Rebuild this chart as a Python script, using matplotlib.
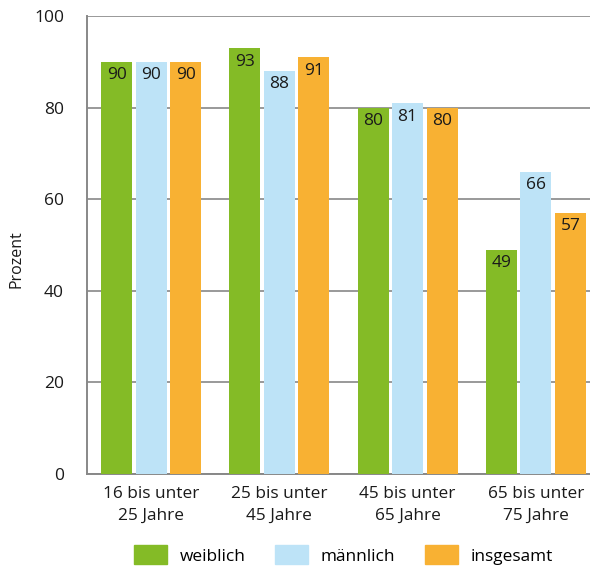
import numpy as np
import matplotlib.pyplot as plt
from matplotlib.patches import Patch

plt.rcParams['font.family'] = ['Open Sans', 'DejaVu Sans']

gruppen = ['16 bis unter\n25 Jahre', '25 bis unter\n45 Jahre',
           '45 bis unter\n65 Jahre', '65 bis unter\n75 Jahre']
weiblich = [90, 93, 80, 49]
maennlich = [90, 88, 81, 66]
insgesamt = [90, 91, 80, 57]
serien = ['weiblich', 'männlich', 'insgesamt']
farben = ['#84bb26', '#bde3f7', '#f8b133']

fig = plt.figure(figsize=(5.9, 5.67), dpi=100)
ax = fig.add_axes([87 / 590, 1 - 474 / 567, 513 / 590, 458 / 567])

x = np.arange(len(gruppen))
breite = 0.242
abstand = 0.269
for i, (werte, farbe) in enumerate(zip([weiblich, maennlich, insgesamt], farben)):
    pos = x + (i - 1) * abstand
    ax.bar(pos, werte, breite, color=farbe, zorder=3)
    for p, w in zip(pos, werte):
        ax.text(p, w - 1.2, str(w), ha='center', va='top', fontsize=12.5,
                color='#1a1a1a', zorder=4)

ax.set_xlim(-0.5, 3.5)
ax.set_ylim(0, 100)
ax.set_yticks(range(0, 101, 20))
ax.set_xticks(x)
ax.set_xticklabels(gruppen, fontsize=12.4, color='#1a1a1a', linespacing=1.45)
ax.tick_params(axis='y', length=0, pad=16.5, labelsize=12.5, labelcolor='#1a1a1a')
ax.tick_params(axis='x', length=0, pad=9)
ax.yaxis.grid(True, color='#999999', linewidth=1.4, zorder=0)
for s in ['top', 'right']:
    ax.spines[s].set_visible(False)
for s in ['left', 'bottom']:
    ax.spines[s].set_color('#888888')
    ax.spines[s].set_linewidth(1.4)
ax.set_ylabel('Prozent', fontsize=11.5, color='#1a1a1a')
ax.yaxis.set_label_coords(-62 / 513, (474 - 259) / 458)

handles = [Patch(color=f, label=s) for s, f in zip(serien, farben)]
fig.legend(handles=handles, loc='center', bbox_to_anchor=(0.582, 1 - 555 / 567),
           ncol=3, frameon=False, fontsize=12.4, handlelength=1.92, handleheight=1.33,
           columnspacing=1.75, handletextpad=0.7)

fig.savefig('out.png', dpi=100)
